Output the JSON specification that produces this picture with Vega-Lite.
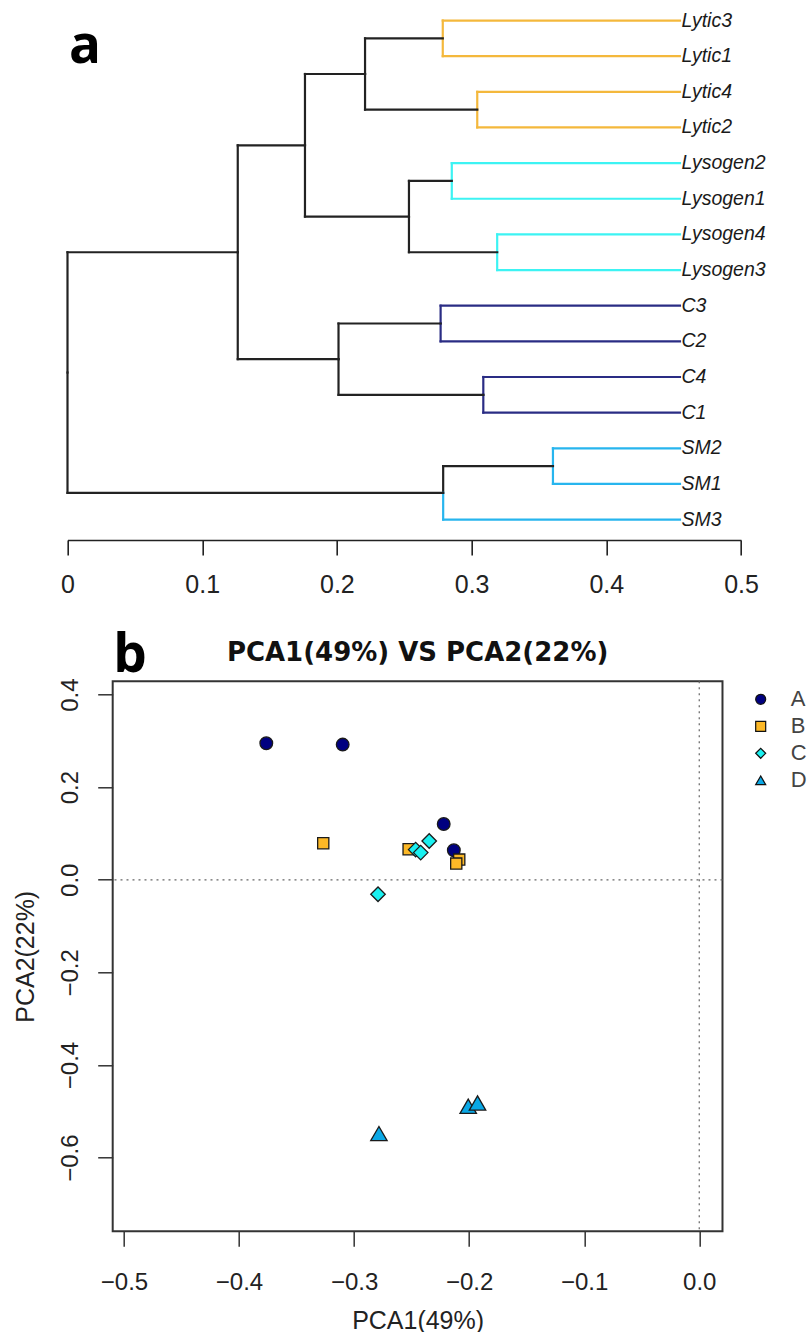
{
  "$schema": "https://vega.github.io/schema/vega-lite/v6.json",
  "background": "white",
  "padding": {"left": 11.7, "top": 2.7, "right": 0, "bottom": 0},
  "bounds": "flush",
  "spacing": 143.6,
  "config": {"font": "Liberation Sans", "axis": {"grid": false}},
  "datasets": {
    "edges": [
      {"px": 0, "py": 10.875, "cx": 0.1264, "cy": 7.5, "grp": "link"},
      {"px": 0, "py": 10.875, "cx": 0.2789, "cy": 14.25, "grp": "link"},
      {"px": 0.1264, "py": 7.5, "cx": 0.1763, "cy": 4.5, "grp": "link"},
      {"px": 0.1264, "py": 7.5, "cx": 0.2012, "cy": 10.5, "grp": "link"},
      {"px": 0.1763, "py": 4.5, "cx": 0.2209, "cy": 2.5, "grp": "link"},
      {"px": 0.1763, "py": 4.5, "cx": 0.2535, "cy": 6.5, "grp": "link"},
      {"px": 0.2209, "py": 2.5, "cx": 0.2786, "cy": 1.5, "grp": "link"},
      {"px": 0.2209, "py": 2.5, "cx": 0.3042, "cy": 3.5, "grp": "link"},
      {"px": 0.2786, "py": 1.5, "cx": 0.4547, "cy": 1, "grp": "Lytic", "leaf": "Lytic3"},
      {"px": 0.2786, "py": 1.5, "cx": 0.4547, "cy": 2, "grp": "Lytic", "leaf": "Lytic1"},
      {"px": 0.3042, "py": 3.5, "cx": 0.4547, "cy": 3, "grp": "Lytic", "leaf": "Lytic4"},
      {"px": 0.3042, "py": 3.5, "cx": 0.4547, "cy": 4, "grp": "Lytic", "leaf": "Lytic2"},
      {"px": 0.2535, "py": 6.5, "cx": 0.2853, "cy": 5.5, "grp": "link"},
      {"px": 0.2535, "py": 6.5, "cx": 0.3190, "cy": 7.5, "grp": "link"},
      {"px": 0.2853, "py": 5.5, "cx": 0.4547, "cy": 5, "grp": "Lysogen", "leaf": "Lysogen2"},
      {"px": 0.2853, "py": 5.5, "cx": 0.4547, "cy": 6, "grp": "Lysogen", "leaf": "Lysogen1"},
      {"px": 0.3190, "py": 7.5, "cx": 0.4547, "cy": 7, "grp": "Lysogen", "leaf": "Lysogen4"},
      {"px": 0.3190, "py": 7.5, "cx": 0.4547, "cy": 8, "grp": "Lysogen", "leaf": "Lysogen3"},
      {"px": 0.2012, "py": 10.5, "cx": 0.2770, "cy": 9.5, "grp": "link"},
      {"px": 0.2012, "py": 10.5, "cx": 0.3087, "cy": 11.5, "grp": "link"},
      {"px": 0.2770, "py": 9.5, "cx": 0.4547, "cy": 9, "grp": "C", "leaf": "C3"},
      {"px": 0.2770, "py": 9.5, "cx": 0.4547, "cy": 10, "grp": "C", "leaf": "C2"},
      {"px": 0.3087, "py": 11.5, "cx": 0.4547, "cy": 11, "grp": "C", "leaf": "C4"},
      {"px": 0.3087, "py": 11.5, "cx": 0.4547, "cy": 12, "grp": "C", "leaf": "C1"},
      {"px": 0.2789, "py": 14.25, "cx": 0.3604, "cy": 13.5, "grp": "link"},
      {"px": 0.2789, "py": 14.25, "cx": 0.4547, "cy": 15, "grp": "SM", "leaf": "SM3"},
      {"px": 0.3604, "py": 13.5, "cx": 0.4547, "cy": 13, "grp": "SM", "leaf": "SM2"},
      {"px": 0.3604, "py": 13.5, "cx": 0.4547, "cy": 14, "grp": "SM", "leaf": "SM1"}
    ],
    "scores": [
      {"group": "A", "pc1": -0.3763, "pc2": 0.2948},
      {"group": "A", "pc1": -0.3099, "pc2": 0.2920},
      {"group": "A", "pc1": -0.2221, "pc2": 0.1205},
      {"group": "A", "pc1": -0.2133, "pc2": 0.0637},
      {"group": "B", "pc1": -0.3268, "pc2": 0.0788},
      {"group": "B", "pc1": -0.2526, "pc2": 0.0659},
      {"group": "B", "pc1": -0.2086, "pc2": 0.0436},
      {"group": "B", "pc1": -0.2112, "pc2": 0.0350},
      {"group": "C", "pc1": -0.2465, "pc2": 0.0652},
      {"group": "C", "pc1": -0.2421, "pc2": 0.0587},
      {"group": "C", "pc1": -0.2347, "pc2": 0.0838},
      {"group": "C", "pc1": -0.2792, "pc2": -0.0313},
      {"group": "D", "pc1": -0.2784, "pc2": -0.5482},
      {"group": "D", "pc1": -0.2008, "pc2": -0.4892},
      {"group": "D", "pc1": -0.1927, "pc2": -0.4821}
    ]
  },
  "resolve": {
    "scale": {"x": "independent", "y": "independent", "color": "independent", "shape": "independent"},
    "legend": {"color": "independent", "shape": "independent"}
  },
  "vconcat": [
    {
      "width": 628.3,
      "height": 534.7,
      "view": {"stroke": null},
      "data": {"name": "edges"},
      "layer": [
        {
          "mark": {"type": "rule", "strokeWidth": 2.2, "strokeCap": "square"},
          "encoding": {
            "x": {
              "field": "px", "type": "quantitative",
              "scale": {"domain": [0, 0.5], "range": [-45.2, 628.3], "nice": false, "zero": false},
              "axis": {
                "title": null, "values": [0, 0.1, 0.2, 0.3, 0.4, 0.5], "format": "~g",
                "offset": 2.6, "tickSize": 15, "tickColor": "#222", "tickWidth": 1.6,
                "domainColor": "#222", "domainWidth": 1.6,
                "labelFontSize": 25, "labelColor": "#222", "labelBaseline": "alphabetic",
                "labelPadding": 38, "labelFlush": false, "labelOverlap": false
              }
            },
            "y": {
              "field": "py", "type": "quantitative",
              "scale": {"domain": [0.5, 15.5], "reverse": true, "nice": false, "zero": false},
              "axis": null
            },
            "y2": {"field": "cy"},
            "color": {
              "field": "grp", "type": "nominal",
              "scale": {"domain": ["link", "Lytic", "Lysogen", "C", "SM"], "range": ["#222222", "#F4B83C", "#3DF3F3", "#2A2C84", "#27B5EE"]},
              "legend": null
            }
          }
        },
        {
          "mark": {"type": "rule", "strokeWidth": 2.2, "strokeCap": "square"},
          "encoding": {
            "x": {"field": "px", "type": "quantitative"},
            "x2": {"field": "cx"},
            "y": {"field": "cy", "type": "quantitative"},
            "color": {"field": "grp", "type": "nominal", "legend": null}
          }
        },
        {
          "transform": [{"filter": "datum.leaf"}],
          "mark": {"type": "text", "align": "left", "baseline": "middle", "dx": 1.5, "fontStyle": "italic", "fontSize": 19.5, "color": "#1a1a1a"},
          "encoding": {
            "x": {"field": "cx", "type": "quantitative"},
            "y": {"field": "cy", "type": "quantitative"},
            "text": {"field": "leaf"}
          }
        },
        {
          "data": {"values": [{}]},
          "mark": {"type": "text", "text": "a", "font": "Open Sans", "fontWeight": "bold", "fontSize": 53, "align": "center", "baseline": "alphabetic", "color": "#000"},
          "encoding": {
            "x": {"datum": 0.013, "type": "quantitative"},
            "y": {"datum": 2.19, "type": "quantitative"}
          }
        }
      ]
    },
    {
      "width": 609.8,
      "height": 550,
      "view": {"stroke": "#333", "strokeWidth": 2},
      "title": {
        "text": "PCA1(49%) VS PCA2(22%)", "font": "DejaVu Sans", "fontSize": 26, "fontWeight": "bold",
        "color": "#111", "anchor": "middle", "baseline": "alphabetic", "offset": -57
      },
      "layer": [
        {
          "data": {"values": [{}]},
          "mark": {"type": "rule", "color": "#666", "strokeDash": [2, 4], "strokeWidth": 1.2},
          "encoding": {"y": {"datum": 0, "type": "quantitative"}}
        },
        {
          "data": {"values": [{}]},
          "mark": {"type": "rule", "color": "#666", "strokeDash": [2, 4], "strokeWidth": 1.2},
          "encoding": {"x": {"datum": 0, "type": "quantitative"}}
        },
        {
          "data": {"name": "scores"},
          "encoding": {
            "x": {
              "field": "pc1", "type": "quantitative",
              "scale": {"domain": [-0.5098, 0.0202], "nice": false, "zero": false},
              "axis": {
                "title": "PCA1(49%)", "values": [-0.5, -0.4, -0.3, -0.2, -0.1, 0], "format": ".1f",
                "domain": false, "tickSize": 15, "tickColor": "#333", "tickWidth": 1.5,
                "labelFontSize": 24, "labelColor": "#222", "labelBaseline": "alphabetic", "labelPadding": 43,
                "labelFlush": false, "labelOverlap": false,
                "titleFontSize": 25, "titleFontWeight": "normal", "titleColor": "#222",
                "titleBaseline": "alphabetic", "titleY": 97
              }
            },
            "y": {
              "field": "pc2", "type": "quantitative",
              "scale": {"domain": [-0.7592, 0.4287], "nice": false, "zero": false},
              "axis": {
                "title": "PCA2(22%)", "values": [-0.6, -0.4, -0.2, 0, 0.2, 0.4], "format": ".1f",
                "domain": false, "tickSize": 15, "tickColor": "#333", "tickWidth": 1.5,
                "labelFontSize": 24, "labelColor": "#222", "labelAngle": 270, "labelAlign": "center",
                "labelBaseline": "alphabetic", "labelPadding": 20, "labelFlush": false, "labelOverlap": false,
                "titleFontSize": 25, "titleFontWeight": "normal", "titleColor": "#222",
                "titleAngle": 270, "titleAlign": "center", "titleBaseline": "alphabetic",
                "titleX": -79.2, "titleY": 275
              }
            },
            "color": {
              "field": "group", "type": "nominal",
              "scale": {"domain": ["A", "B", "C", "D"], "range": ["#000080", "#FCB827", "#1AF0F0", "#0AA8E6"]},
              "legend": {
                "title": null, "orient": "none", "legendX": 637, "legendY": 7, "padding": 0,
                "labelFont": "Liberation Sans", "labelFontSize": 22, "labelColor": "#444",
                "symbolSize": 100, "symbolStrokeColor": "#111", "symbolStrokeWidth": 1.2,
                "rowPadding": 5, "labelOffset": 19
              }
            },
            "shape": {
              "field": "group", "type": "nominal",
              "scale": {"domain": ["A", "B", "C", "D"], "range": ["circle", "square", "diamond", "triangle-up"]},
              "legend": {
                "title": null, "orient": "none", "legendX": 637, "legendY": 7, "padding": 0,
                "labelFont": "Liberation Sans", "labelFontSize": 22, "labelColor": "#444",
                "symbolSize": 100, "symbolStrokeColor": "#111", "symbolStrokeWidth": 1.2,
                "rowPadding": 5, "labelOffset": 19
              }
            }
          },
          "layer": [
            {
              "transform": [{"filter": "datum.group === 'A'"}],
              "mark": {"type": "point", "filled": true, "opacity": 1, "stroke": "#1a1a1a", "strokeWidth": 1.3, "size": 160}
            },
            {
              "transform": [{"filter": "datum.group === 'B'"}],
              "mark": {"type": "point", "filled": true, "opacity": 1, "stroke": "#1a1a1a", "strokeWidth": 1.3, "size": 125}
            },
            {
              "transform": [{"filter": "datum.group === 'C'"}],
              "mark": {"type": "point", "filled": true, "opacity": 1, "stroke": "#1a1a1a", "strokeWidth": 1.3, "size": 210}
            },
            {
              "transform": [{"filter": "datum.group === 'D'"}],
              "mark": {"type": "point", "filled": true, "opacity": 1, "stroke": "#1a1a1a", "strokeWidth": 1.3, "size": 270}
            }
          ]
        },
        {
          "data": {"values": [{}]},
          "mark": {"type": "text", "text": "b", "font": "Open Sans", "fontWeight": "bold", "fontSize": 53, "align": "center", "baseline": "alphabetic", "color": "#000"},
          "encoding": {
            "x": {"datum": -0.4948, "type": "quantitative"},
            "y": {"datum": 0.448, "type": "quantitative"}
          }
        }
      ]
    }
  ]
}
